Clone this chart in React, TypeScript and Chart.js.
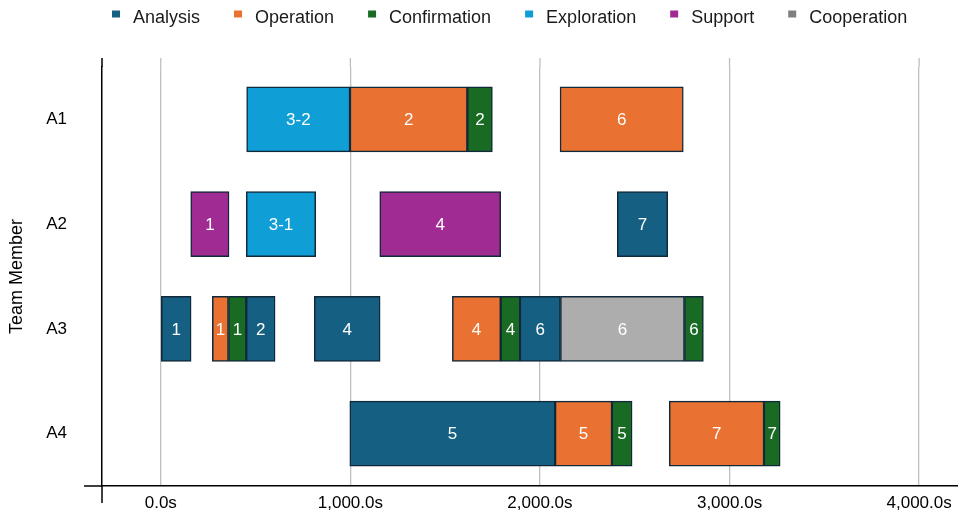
import React, { useEffect, useRef } from "react";
import { Chart, registerables } from "chart.js";

Chart.register(...registerables);

const members = ["A1", "A2", "A3", "A4"];
const tickValues = [0, 1000, 2000, 3000, 4000];

// [member, start (s), end (s), label]
const analysis: [string, number, number, string][] = [
  ["A2", 2408, 2674, "7"],
  ["A3", 3, 160, "1"],
  ["A3", 451, 603, "2"],
  ["A3", 810, 1157, "4"],
  ["A3", 1895, 2108, "6"],
  ["A4", 997, 2080, "5"],
];
const operation: [string, number, number, string][] = [
  ["A1", 998, 1617, "2"],
  ["A1", 2106, 2756, "6"],
  ["A3", 272, 357, "1"],
  ["A3", 1538, 1793, "4"],
  ["A4", 2080, 2380, "5"],
  ["A4", 2682, 3182, "7"],
];
const confirmation: [string, number, number, string][] = [
  ["A1", 1617, 1749, "2"],
  ["A3", 357, 451, "1"],
  ["A3", 1793, 1895, "4"],
  ["A3", 2762, 2862, "6"],
  ["A4", 2380, 2486, "5"],
  ["A4", 3182, 3267, "7"],
];
const exploration: [string, number, number, string][] = [
  ["A1", 453, 998, "3-2"],
  ["A2", 451, 817, "3-1"],
];
const support: [string, number, number, string][] = [
  ["A2", 158, 360, "1"],
  ["A2", 1155, 1793, "4"],
];
const cooperation: [string, number, number, string][] = [
  ["A3", 2108, 2762, "6"],
];

const seriesNames = ["Analysis", "Operation", "Confirmation", "Exploration", "Support", "Cooperation"];
const seriesData = [analysis, operation, confirmation, exploration, support, cooperation];
const seriesColors = ["#156082", "#E97132", "#196B24", "#0F9ED5", "#A02B93", "#ADADAD"];
const legendColors = ["#156082", "#E97132", "#196B24", "#0F9ED5", "#A02B93", "#7F7F7F"];

const FONT = "'Liberation Sans', Arial, sans-serif";

const barLabelPlugin = {
  id: "barLabels",
  afterDatasetsDraw(chart: any) {
    const ctx = chart.ctx;
    ctx.save();
    ctx.fillStyle = "#ffffff";
    ctx.font = `17px ${FONT}`;
    ctx.textAlign = "center";
    ctx.textBaseline = "middle";
    chart.data.datasets.forEach((ds: any, di: number) => {
      const meta = chart.getDatasetMeta(di);
      meta.data.forEach((el: any, i: number) => {
        const p = el.getProps(["x", "y", "base"], true);
        ctx.fillText(ds.data[i].label, (p.x + p.base) / 2, p.y + 1);
      });
    });
    ctx.restore();
  },
};

const decorPlugin = {
  id: "decor",
  beforeDatasetsDraw(chart: any) {
    const { ctx, chartArea, scales } = chart;
    ctx.save();
    ctx.strokeStyle = "#BFBFBF";
    ctx.lineWidth = 1.3;
    scales.x.ticks.forEach((t: any) => {
      const x = scales.x.getPixelForValue(t.value);
      ctx.beginPath();
      ctx.moveTo(x, 58);
      ctx.lineTo(x, chartArea.top);
      ctx.stroke();
    });
    ctx.restore();
  },
  afterDraw(chart: any) {
    const { ctx, chartArea } = chart;
    ctx.save();
    ctx.strokeStyle = "#000000";
    ctx.lineWidth = 1.5;
    ctx.beginPath();
    ctx.moveTo(chartArea.left, 58);
    ctx.lineTo(chartArea.left, chartArea.top);
    ctx.moveTo(chartArea.left, chartArea.bottom);
    ctx.lineTo(chartArea.left, 503);
    ctx.moveTo(84, chartArea.bottom);
    ctx.lineTo(chartArea.left, chartArea.bottom);
    ctx.stroke();

    // legend
    ctx.font = `18px ${FONT}`;
    ctx.textBaseline = "middle";
    ctx.textAlign = "left";
    let x = 112;
    seriesNames.forEach((name, i) => {
      ctx.fillStyle = legendColors[i];
      ctx.fillRect(x, 10.5, 8, 7);
      ctx.fillStyle = "#1a1a1a";
      ctx.fillText(name, x + 21, 18.5);
      x += 21 + ctx.measureText(name).width + 34;
    });
    ctx.restore();
  },
};

export default function App() {
  const ref = useRef<HTMLCanvasElement | null>(null);
  useEffect(() => {
    if (!ref.current) return;
    const chart = new Chart(ref.current, {
      type: "bar",
      data: {
        labels: members,
        datasets: seriesNames.map((name, i) => ({
          label: name,
          data: seriesData[i].map(([m, s, e, l]) => ({ y: m, x: [s, e], label: l })) as any,
          backgroundColor: seriesColors[i],
          borderColor: "#10293A",
          borderWidth: 1.5,
          borderSkipped: false,
          barThickness: 65,
          grouped: false,
        })),
      },
      options: {
        indexAxis: "y",
        animation: false,
        responsive: false,
        maintainAspectRatio: false,
        layout: { padding: { top: 67, left: 0, right: 0, bottom: 0 } },
        plugins: {
          legend: { display: false },
          tooltip: { enabled: false },
        },
        scales: {
          x: {
            type: "linear",
            min: -310,
            max: 4205,
            afterBuildTicks: (scale: any) => {
              scale.ticks = tickValues.map((v) => ({ value: v }));
            },
            afterFit: (scale: any) => {
              scale.height = 28;
              scale.paddingLeft = 0;
              scale.paddingRight = 0;
            },
            ticks: {
              padding: 7,
              color: "#000000",
              font: { family: FONT, size: 17 },
              callback: (v: any) =>
                Number(v).toLocaleString("en-US", { minimumFractionDigits: 1, maximumFractionDigits: 1 }) + "s",
            },
            grid: { color: "#BFBFBF", lineWidth: 1.3, drawTicks: false },
            border: { color: "#000000", width: 1.5 },
          },
          y: {
            type: "category",
            afterFit: (scale: any) => {
              scale.width = 102;
              scale.paddingTop = 0;
              scale.paddingBottom = 0;
            },
            ticks: {
              padding: 35,
              color: "#000000",
              font: { family: FONT, size: 17 },
            },
            grid: { display: false, drawTicks: false },
            border: { color: "#000000", width: 1.5 },
            title: {
              display: true,
              text: "Team Member",
              color: "#000000",
              font: { family: FONT, size: 18 },
              padding: { top: 6, bottom: 4 },
            },
          },
        },
      },
      plugins: [barLabelPlugin, decorPlugin],
    });
    return () => chart.destroy();
  }, []);
  return (
    <div style={{ position: "fixed", left: 0, top: 0, width: 958, height: 514, background: "#ffffff" }}>
      <canvas ref={ref} width={958} height={514} style={{ display: "block", width: 958, height: 514 }} />
    </div>
  );
}
